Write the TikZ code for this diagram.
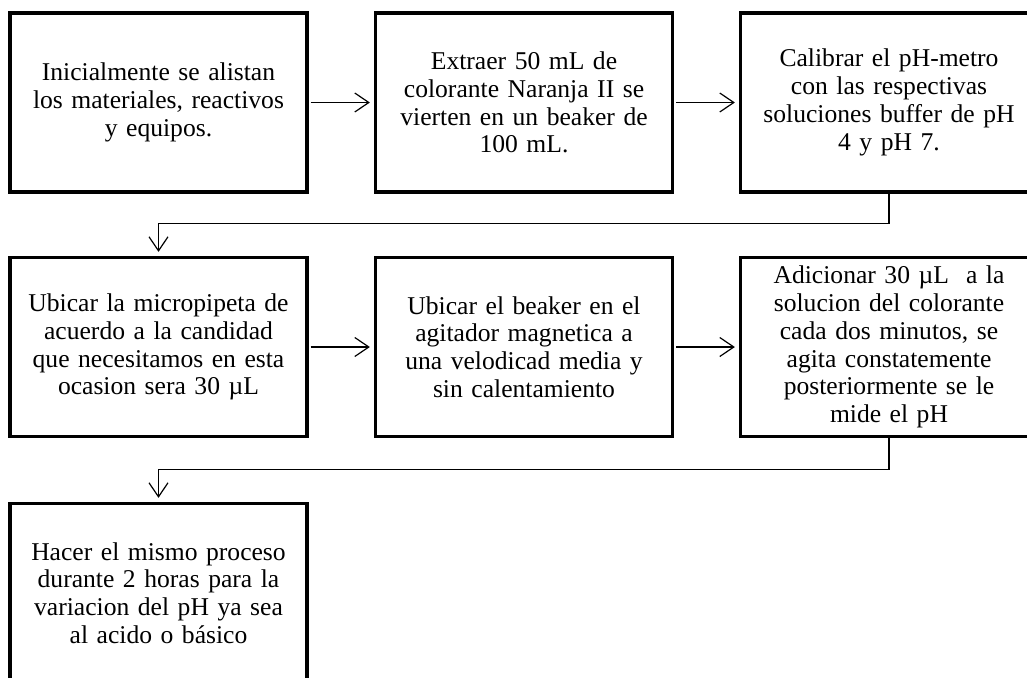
\documentclass[tikz,border=0pt]{standalone}
\usepackage{fontspec}
\setmainfont{Liberation Serif}
\usetikzlibrary{arrows.meta}
\begin{document}
\begin{tikzpicture}[x=1pt,y=-1pt,
  stepbox/.style={draw=black, line width=3.3pt, rectangle, fill=white,
    minimum width=297pt, minimum height=179pt, inner sep=0pt,
    align=center, text width=292pt,
    font=\fontsize{25.6}{27.8}\selectfont},
  conn/.style={draw=black, line width=1.2pt,
    -{Straight Barb[length=14pt,width=19pt,line width=1.2pt]},
    shorten >=4pt, shorten <=2pt}
]
\useasboundingbox (0,0) rectangle (1027,677);
\clip (0,0) rectangle (1027,677);

% first row
\node[stepbox] (b1) at (158.5,102.5) {Inicialmente se alistan\\los materiales, reactivos\\y equipos.};
\node[stepbox] (b2) at (524,102.5) {Extraer 50 mL de\\colorante Naranja II se\\vierten en un beaker de\\100 mL.};
\node[stepbox] (b3) at (889,102.5) {Calibrar el pH-metro\\con las respectivas\\soluciones buffer de pH\\4 y pH 7.};

% second row
\node[stepbox] (b4) at (158.5,347) {Ubicar la micropipeta de\\acuerdo a la candidad\\que necesitamos en esta\\ocasion sera 30 µL};
\node[stepbox] (b5) at (524,347) {Ubicar el beaker en el\\agitador magnetica a\\una velodicad media y\\sin calentamiento};
\node[stepbox] (b6) at (889,347) {Adicionar 30 µL~ a la\\solucion del colorante\\cada dos minutos, se\\agita constatemente\\posteriormente se le\\mide el pH};

% third row
\node[stepbox] (b7) at (158.5,593) {Hacer el mismo proceso\\durante 2 horas para la\\variacion del pH ya sea\\al acido o básico};

% connectors
\draw[conn] (b1) -- (b2);
\draw[conn] (b2) -- (b3);
\draw[conn] (b4) -- (b5);
\draw[conn] (b5) -- (b6);
\draw[conn, shorten <=0pt] (b3.south) -- ++(0,30) -| (b4.north);
\draw[conn, shorten <=0pt] (b6.south) -- ++(0,31) -| (b7.north);
\end{tikzpicture}
\end{document}
